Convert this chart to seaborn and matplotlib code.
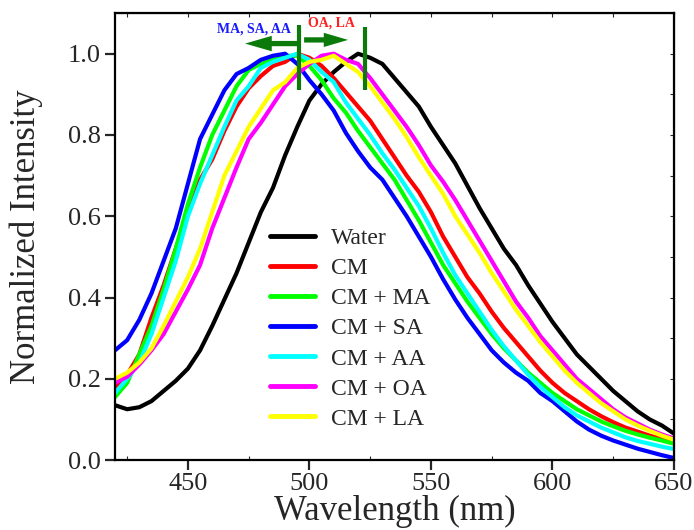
import numpy as np
import pandas as pd
import matplotlib
matplotlib.use("Agg")
import matplotlib.pyplot as plt
import seaborn as sns

wavelength = list(range(420, 651, 5))

water = [0.135, 0.125, 0.13, 0.145, 0.17, 0.195, 0.225, 0.27, 0.33, 0.395, 0.46, 0.535, 0.61, 0.67, 0.75, 0.82,
         0.885, 0.925, 0.955, 0.98, 1.0, 0.99, 0.975, 0.94, 0.905, 0.87, 0.82, 0.775, 0.73, 0.675, 0.62, 0.57,
         0.52, 0.48, 0.43, 0.385, 0.34, 0.30, 0.26, 0.23, 0.20, 0.17, 0.145, 0.12, 0.10, 0.085, 0.065]
cm = [0.18, 0.21, 0.26, 0.35, 0.43, 0.52, 0.61, 0.69, 0.74, 0.81, 0.87, 0.915, 0.945, 0.97, 0.98, 1.0,
      0.99, 0.97, 0.94, 0.905, 0.87, 0.835, 0.79, 0.745, 0.7, 0.66, 0.61, 0.55, 0.5, 0.45, 0.41, 0.365,
      0.325, 0.29, 0.255, 0.22, 0.19, 0.165, 0.145, 0.125, 0.108, 0.093, 0.08, 0.07, 0.06, 0.052, 0.045]
cm_ma = [0.155, 0.19, 0.26, 0.33, 0.42, 0.52, 0.63, 0.72, 0.8, 0.86, 0.92, 0.96, 0.975, 0.985, 0.995, 0.995,
         0.97, 0.935, 0.89, 0.855, 0.81, 0.77, 0.73, 0.69, 0.64, 0.59, 0.535, 0.48, 0.435, 0.39, 0.35, 0.31,
         0.275, 0.245, 0.215, 0.19, 0.165, 0.145, 0.125, 0.11, 0.095, 0.083, 0.072, 0.063, 0.055, 0.048, 0.04]
cm_sa = [0.27, 0.295, 0.345, 0.41, 0.49, 0.57, 0.68, 0.79, 0.85, 0.91, 0.95, 0.965, 0.985, 0.995, 1.0, 0.975,
         0.935, 0.9, 0.86, 0.805, 0.76, 0.72, 0.69, 0.645, 0.6, 0.55, 0.5, 0.445, 0.395, 0.35, 0.31, 0.27,
         0.24, 0.215, 0.195, 0.165, 0.145, 0.12, 0.095, 0.075, 0.06, 0.048, 0.038, 0.028, 0.02, 0.012, 0.005]
cm_aa = [0.165, 0.2, 0.24, 0.31, 0.4, 0.49, 0.6, 0.68, 0.75, 0.82, 0.885, 0.92, 0.965, 0.98, 0.99, 1.0,
         0.985, 0.955, 0.93, 0.88, 0.84, 0.8, 0.755, 0.715, 0.67, 0.625, 0.57, 0.51, 0.455, 0.41, 0.365, 0.32,
         0.28, 0.245, 0.21, 0.18, 0.155, 0.13, 0.11, 0.095, 0.08, 0.068, 0.056, 0.047, 0.04, 0.033, 0.027]
cm_oa = [0.19, 0.205, 0.235, 0.27, 0.31, 0.365, 0.42, 0.48, 0.57, 0.645, 0.72, 0.79, 0.83, 0.875, 0.92, 0.95,
         0.975, 0.995, 1.0, 0.985, 0.975, 0.94, 0.9, 0.86, 0.82, 0.775, 0.725, 0.685, 0.64, 0.59, 0.54, 0.49,
         0.44, 0.39, 0.35, 0.305, 0.27, 0.235, 0.2, 0.175, 0.15, 0.125, 0.105, 0.09, 0.075, 0.063, 0.053]
cm_la = [0.2, 0.215, 0.24, 0.275, 0.33, 0.39, 0.45, 0.52, 0.61, 0.7, 0.76, 0.82, 0.865, 0.91, 0.93, 0.965,
         0.98, 0.985, 0.995, 0.975, 0.955, 0.92, 0.88, 0.84, 0.795, 0.745, 0.7, 0.655, 0.6, 0.555, 0.51, 0.46,
         0.415, 0.37, 0.33, 0.29, 0.255, 0.22, 0.19, 0.165, 0.14, 0.12, 0.1, 0.085, 0.072, 0.06, 0.05]

labels = ["Water", "CM", "CM + MA", "CM + SA", "CM + AA", "CM + OA", "CM + LA"]
series = [water, cm, cm_ma, cm_sa, cm_aa, cm_oa, cm_la]
colors = ["#000000", "#ff0000", "#00ff00", "#0000ff", "#00ffff", "#ff00ff", "#ffff00"]

df = pd.concat([pd.DataFrame({"Wavelength": wavelength, "Intensity": s, "Sample": lab})
                for lab, s in zip(labels, series)], ignore_index=True)

sns.set_style("ticks")
plt.rcParams["font.family"] = ["Liberation Serif", "DejaVu Serif"]
plt.rcParams["mathtext.fontset"] = "stix"

fig = plt.figure(figsize=(6.94, 5.30), dpi=100)
ax = fig.add_axes([0.1657, 0.132, 0.8055, 0.8433])

sns.lineplot(data=df, x="Wavelength", y="Intensity", hue="Sample", hue_order=labels,
             palette=colors, linewidth=3.0, ax=ax, estimator=None, sort=False)

ax.set_xlim(420, 650)
ax.set_ylim(0, 1.1)
ax.set_xticks([450, 500, 550, 600, 650])
ax.set_yticks([0.0, 0.2, 0.4, 0.6, 0.8, 1.0])
ax.set_yticklabels(["0.0", "0.2", "0.4", "0.6", "0.8", "1.0"])
ax.tick_params(axis="both", which="major", direction="out", length=7, width=1.6, labelsize=19)
ax.tick_params(axis="x", which="major", pad=2)
ax.tick_params(axis="y", which="major", pad=3)
ax.set_xlabel("Wavelength (nm)", fontsize=25, labelpad=0)
ax.set_ylabel("Normalized Intensity", fontsize=25, labelpad=18)
for sp in ax.spines.values():
    sp.set_linewidth(1.6)
    sp.set_color("black")

secx = ax.secondary_xaxis("top")
secx.set_xticks(np.arange(425, 651, 25))
secx.tick_params(direction="in", length=3, width=0.8, labeltop=False)
secx.set_xticklabels([])
secy = ax.secondary_yaxis("right")
secy.set_yticks(np.arange(0, 1.11, 0.1))
secy.tick_params(direction="in", length=3, width=0.8, labelright=False)
secy.set_yticklabels([])
ax.set_xticks(np.arange(425, 651, 25), minor=True)
ax.tick_params(axis="x", which="minor", direction="in", length=3, width=0.8)

leg = ax.legend(loc="upper left", bbox_to_anchor=(0.24, 0.567), frameon=False, fontsize=17,
                handlelength=1.9, handletextpad=0.65, labelspacing=0.36)
for line in leg.get_lines():
    line.set_linewidth(3.5)

green = "#0b7a0b"
ax.plot([495.7, 495.7], [0.91, 1.07], color=green, lw=3, solid_capstyle="butt")
ax.plot([522.9, 522.9], [0.91, 1.065], color=green, lw=3, solid_capstyle="butt")
ax.arrow(496.1, 1.025, -22.6, 0, width=0.013, head_width=0.038, head_length=11,
         length_includes_head=True, color=green, lw=0)
ax.arrow(497.8, 1.034, 18.1, 0, width=0.013, head_width=0.035, head_length=10,
         length_includes_head=True, color=green, lw=0)
ax.text(477.2, 1.06, "MA, SA, AA", color="#1a1aff", fontsize=10, fontweight="bold",
        ha="center", va="center")
ax.text(508.9, 1.075, "OA, LA", color="#ff2020", fontsize=10, fontweight="bold",
        ha="center", va="center")

fig.savefig("out.png", dpi=100)
